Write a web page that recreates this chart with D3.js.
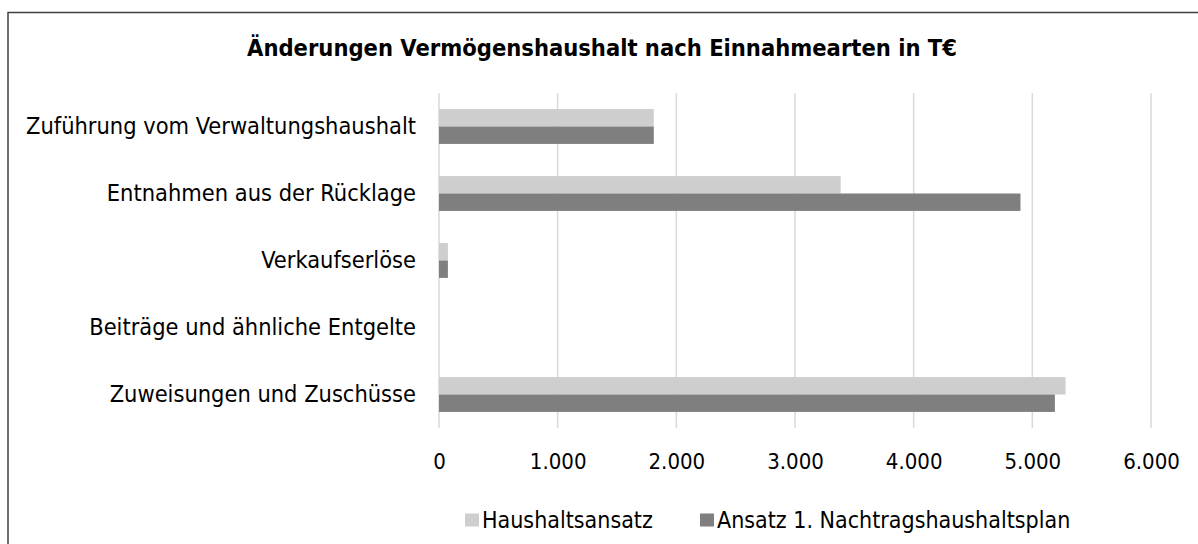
<!DOCTYPE html>
<html>
<head>
<meta charset="utf-8">
<script src="https://cdn.jsdelivr.net/npm/d3@7"></script>
<style>
  body { margin: 0; background: #fff; }
  svg text { font-family: "DejaVu Sans Condensed", "DejaVu Sans", sans-serif; fill: #000; }
</style>
</head>
<body>
<div id="graph"></div>
<script>
const categories = [
  "Zuführung vom Verwaltungshaushalt",
  "Entnahmen aus der Rücklage",
  "Verkaufserlöse",
  "Beiträge und ähnliche Entgelte",
  "Zuweisungen und Zuschüsse"
];
const seriesNames = ["Haushaltsansatz", "Ansatz 1. Nachtragshaushaltsplan"];
const haushaltsansatz = [1810, 3385, 75, 0, 5280];
const nachtragsplan = [1810, 4900, 75, 0, 5190];
const xTicks = [0, 1000, 2000, 3000, 4000, 5000, 6000];
const colors = ["#cfcecf", "#7f7f7f"];

const width = 1198;
const height = 544;
const marginLeft = 439;
const marginRight = 47;
const marginTop = 93;
const marginBottom = 116;
const fontFamily = "DejaVu Sans Condensed, DejaVu Sans, sans-serif";

const svg = d3.select("#graph")
  .append("svg")
  .attr("width", width)
  .attr("height", height);

// chart border
svg.append("rect")
  .attr("x", 8).attr("y", 12.5)
  .attr("width", width + 10).attr("height", height)
  .attr("fill", "none")
  .attr("stroke", "#404040")
  .attr("stroke-width", 1.5);

const x = d3.scaleLinear()
  .domain([0, 6000])
  .range([marginLeft, width - marginRight]);

const y = d3.scaleBand()
  .domain(categories)
  .range([marginTop, height - marginBottom])
  .paddingInner(0.48)
  .paddingOuter(0.24);

const ySub = d3.scaleBand()
  .domain(seriesNames)
  .range([0, y.bandwidth()]);

// title
svg.append("text")
  .attr("x", 602)
  .attr("y", 55.5)
  .attr("text-anchor", "middle")
  .style("font-size", "23.5px")
  .style("font-weight", "bold")
  .text("Änderungen Vermögenshaushalt nach Einnahmearten in T€");

// gridlines
svg.append("g")
  .selectAll("line")
  .data(xTicks)
  .join("line")
  .attr("x1", d => x(d)).attr("x2", d => x(d))
  .attr("y1", marginTop).attr("y2", height - marginBottom)
  .attr("stroke", "#d9d9d9")
  .attr("stroke-width", 1.5);

// x axis
const xAxis = d3.axisBottom(x)
  .tickValues(xTicks)
  .tickSize(0)
  .tickPadding(25)
  .tickFormat(d => d3.format(",")(d).replace(/,/g, "."));

svg.append("g")
  .attr("transform", `translate(0, ${height - marginBottom})`)
  .call(xAxis)
  .call(g => g.select(".domain").remove())
  .selectAll("text")
  .style("font-size", "22px")
  .style("font-family", fontFamily);

// y axis
const yAxis = d3.axisLeft(y).tickSize(0).tickPadding(23);
svg.append("g")
  .attr("transform", `translate(${marginLeft}, 0)`)
  .call(yAxis)
  .call(g => g.select(".domain").remove())
  .selectAll("text")
  .style("font-size", "23.4px")
  .style("font-family", fontFamily);

// bars
const rows = categories.map((c, i) => ({
  category: c,
  values: [haushaltsansatz[i], nachtragsplan[i]]
}));

svg.append("g")
  .selectAll("g")
  .data(rows)
  .join("g")
  .attr("transform", d => `translate(0, ${y(d.category)})`)
  .selectAll("rect")
  .data(d => d.values.map((v, j) => ({ name: seriesNames[j], value: v, j })))
  .join("rect")
  .attr("x", x(0))
  .attr("y", d => ySub(d.name))
  .attr("width", d => x(d.value) - x(0))
  .attr("height", ySub.bandwidth())
  .attr("fill", d => colors[d.j]);

// legend
const legendX = [465, 700];
const legend = svg.append("g")
  .selectAll("g")
  .data(seriesNames)
  .join("g")
  .attr("transform", (d, i) => `translate(${legendX[i]}, 520)`);

legend.append("rect")
  .attr("x", 0).attr("y", -6.5)
  .attr("width", 14).attr("height", 13)
  .attr("fill", (d, i) => colors[i]);

legend.append("text")
  .attr("x", 17)
  .attr("y", 0)
  .attr("dy", "0.35em")
  .style("font-size", "23px")
  .text(d => d);
</script>
</body>
</html>
